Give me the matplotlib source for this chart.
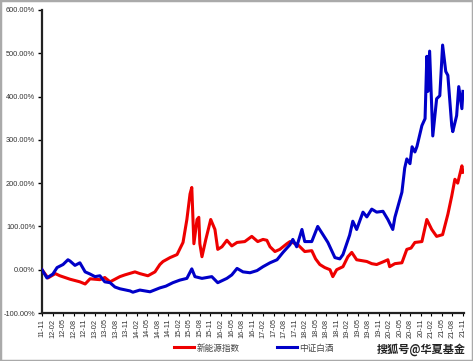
import matplotlib
matplotlib.use("Agg")
import matplotlib.pyplot as plt
from matplotlib.patches import Rectangle

# months since 2011-11
red_t = [0, 1.7, 3.8, 5.1, 8, 10.8, 12.3, 13.7, 16.5, 17.9, 19.4, 20.8, 22.2, 23.6, 26.5, 27.9,
         30.2, 32.2, 33.6, 34.5, 36.5, 38.5, 40.2, 41.3, 42.2, 42.7, 43.3, 44.2, 44.7, 45.0, 45.6,
         46.7, 48.1, 49.3, 50.1, 51.3, 52.7, 54.1, 55.6, 57.8, 59.8, 61.5, 63, 64.1, 65, 66.4,
         67.8, 69.8, 70.7, 72.9, 74.9, 76.9, 78, 79.2, 80.6, 82.1, 82.9, 84, 85.8, 87.2, 88.3,
         89.7, 92.6, 94, 95.4, 97.2, 98.6, 99.1, 100.6, 102.6, 104, 105.2, 106.3, 108.3, 109.7,
         111.1, 112.5, 114.2, 115.7, 116.8, 117.7, 118.5, 119.7, 120]
red_v = [0, -19, -9, -14, -22, -28, -33, -21, -23, -18, -28, -22, -16, -12, -5, -9,
         -14, -5, 12, 19, 28, 35, 63, 116, 175, 190, 60, 116, 121, 60, 30,
         70, 116, 93, 47, 53, 68, 55, 63, 65, 77, 65, 70, 68, 53, 42,
         47, 60, 65, 58, 42, 44, 25, 12, 5, 0, -16, 0, 7, 30, 40,
         23, 19, 14, 12, 18, 23, 7, 14, 16, 47, 50, 63, 65, 116,
         93, 77, 81, 128, 170, 209, 200, 240, 225]

blue_t = [0, 1.4, 3.1, 4.3, 6, 7.4, 8, 9.4, 10.8, 12.3, 13.7, 15.1, 16.5, 17.9, 19.4, 20.8,
          22.2, 25.1, 25.9, 27.9, 30.8, 33.6, 35.3, 37.3, 39.3, 41.3, 42.7, 43.6, 45.6, 47,
          48.4, 50.1, 52.7, 54.1, 55.6, 57.3, 59.3, 61.3, 63, 65, 67, 68.7, 70.7, 71.5, 72.6,
          74.1, 74.9, 76.9, 78.6, 80.1, 81.5, 83.5, 84.9, 85.8, 87.7, 88.6, 89.7, 91.5, 92.6,
          94, 95.4, 97.2, 98.6, 100, 100.6, 102.6, 103.4, 104, 104.9, 105.5, 106.3, 106.9,
          108.3, 109.2, 109.7, 110, 110.5, 111.4, 112.5, 113.4, 114.2, 115.1, 115.7, 116.8,
          117.1, 118.2, 118.8, 119.7, 120]
blue_v = [0, -19, -10, 5, 12, 23, 20, 10, 16, -5, -10, -16, -14, -28, -30, -40,
          -44, -49, -52, -47, -51, -42, -38, -30, -24, -20, 2, -16, -20, -18,
          -16, -30, -20, -12, 3, -5, -7, -2, 7, 16, 23, 40, 58, 70, 53,
          93, 65, 65, 100, 81, 63, 28, 25, 35, 80, 112, 93, 133, 122,
          140, 133, 135, 116, 93, 121, 179, 235, 256, 245, 284, 272, 285,
          333, 349, 493, 412, 505, 309, 395, 402, 519, 458, 449, 333,
          319, 356, 423, 372, 412]

tick_labels = []
for i in range(41):
    m = 10 + 3 * i  # zero-based month index from Jan 2011
    yy = 11 + m // 12
    mm = m % 12 + 1
    tick_labels.append(f"{yy:02d}-{mm:02d}")

y_ticks = [-100, 0, 100, 200, 300, 400, 500, 600]

plt.rcParams['font.family'] = ['Liberation Sans', 'Noto Sans CJK SC', 'DejaVu Sans']

fig = plt.figure(figsize=(4.73, 3.61), dpi=100)
ax = fig.add_axes([42/473, 1 - 313/361, (464 - 42)/473, (313 - 10)/361])

ax.plot(red_t, red_v, color='#ee0000', lw=2.2, label='新能源指数', zorder=3)
ax.plot(blue_t, blue_v, color='#0000c8', lw=2.2, label='中证白酒', zorder=3)

ax.set_xlim(0, 120.3)
ax.set_ylim(-100, 600)
ax.set_yticks(y_ticks)
ax.set_yticklabels([f"{v:.2f}%" for v in y_ticks], fontsize=5.3, color='#333333')
ax.set_xticks([3 * i for i in range(41)])
ax.set_xticklabels(tick_labels, rotation=90, fontsize=5.3, color='#333333')
ax.tick_params(axis='y', length=3, width=1, pad=2)
ax.tick_params(axis='x', length=2, width=0.8, pad=2)
for s in ['top', 'right']:
    ax.spines[s].set_visible(False)
for s in ['left', 'bottom']:
    ax.spines[s].set_linewidth(1.6)
    ax.spines[s].set_color('#222222')

fig.legend(loc='center', bbox_to_anchor=(254/473, 1 - 348/361), ncol=2, frameon=False,
           handlelength=2.3, columnspacing=4.4, handletextpad=0.25,
           labelcolor='#444444', prop={'family': ['Noto Sans CJK SC', 'DejaVu Sans'], 'size': 6.2})

fig.text(466/473, 1 - 349/361, '搜狐号@华夏基金', ha='right', va='center', fontsize=8,
         fontweight='bold', color='#222222', family=['Noto Sans CJK SC', 'DejaVu Sans'])

fig.patches.append(Rectangle((0, 0), 1, 1, transform=fig.transFigure, fill=False,
                             edgecolor='#aaaaaa', lw=2.5))

fig.savefig('out.png', dpi=100)
